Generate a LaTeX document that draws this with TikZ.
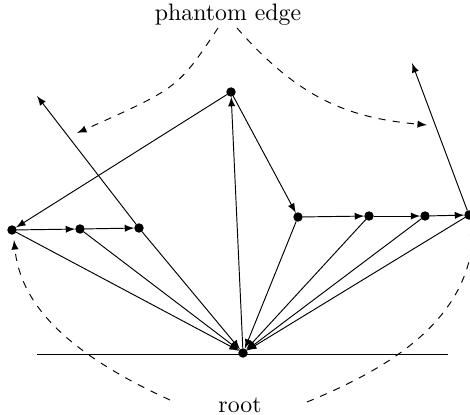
\documentclass[tikz,border=0pt]{standalone}
\usepackage{tikz}
\usetikzlibrary{positioning, calc}

\begin{document}
\begin{tikzpicture}[
    x=0.42pt, y=-0.42pt,
    >=latex,
    dot/.style={circle, fill=black, inner sep=1.4pt, outer sep=0pt},
    phantom/.style={dashed, ->}
]
\useasboundingbox (0,0) rectangle (470,414);

% ==========================================
% 1. Nodes
% ==========================================
\node[dot] (root) at (243, 353) {};

\node[dot] (left1) at (12, 230) {};
\node[dot] (left2) at (80, 229) {};
\node[dot] (left3) at (139, 228) {};

\node[dot] (top) at (231, 92) {};

\node[dot] (mid1) at (298, 217) {};
\node[dot] (mid2) at (369, 216) {};
\node[dot] (mid3) at (425, 216) {};
\node[dot] (mid4) at (469, 215) {};

\coordinate (outL) at (37, 96);
\coordinate (outR) at (412, 63);

% Labels
\node (phantom) at (228, 15) {phantom edge};
\node (rootlbl) at (240, 405) {root};

% ground line
\coordinate (gndL) at (37, 354);
\coordinate (gndR) at (448, 354);
\draw (gndL) -- (gndR);

% ==========================================
% 2. Tree edges
% ==========================================
\draw[->] (root) -- (top);
\foreach \n in {left1, left2, left3, mid1, mid2, mid3, mid4}
    \draw[->] (\n) -- (root);

\draw[->] (top) -- (left1);
\draw[->] (top) -- (mid1);

\draw[->] (left1) -- (left2);
\draw[->] (left2) -- (left3);
\draw[->] (mid1) -- (mid2);
\draw[->] (mid2) -- (mid3);
\draw[->] (mid3) -- (mid4);

\draw[->] (left3) -- (outL);
\draw[->] (mid4) -- (outR);

% ==========================================
% 3. Phantom edges (dashed)
% ==========================================
\draw[phantom] (218, 28) .. controls (178, 88) .. (77, 133);
\draw[phantom] (237, 28) .. controls (300, 100) and (350, 118) .. (427, 125);
\draw[phantom] (170, 400) .. controls (60, 350) and (20, 300) .. (14, 240);
\draw[phantom] (307, 402) .. controls (410, 360) and (468, 310) .. (474, 226);

\end{tikzpicture}
\end{document}
